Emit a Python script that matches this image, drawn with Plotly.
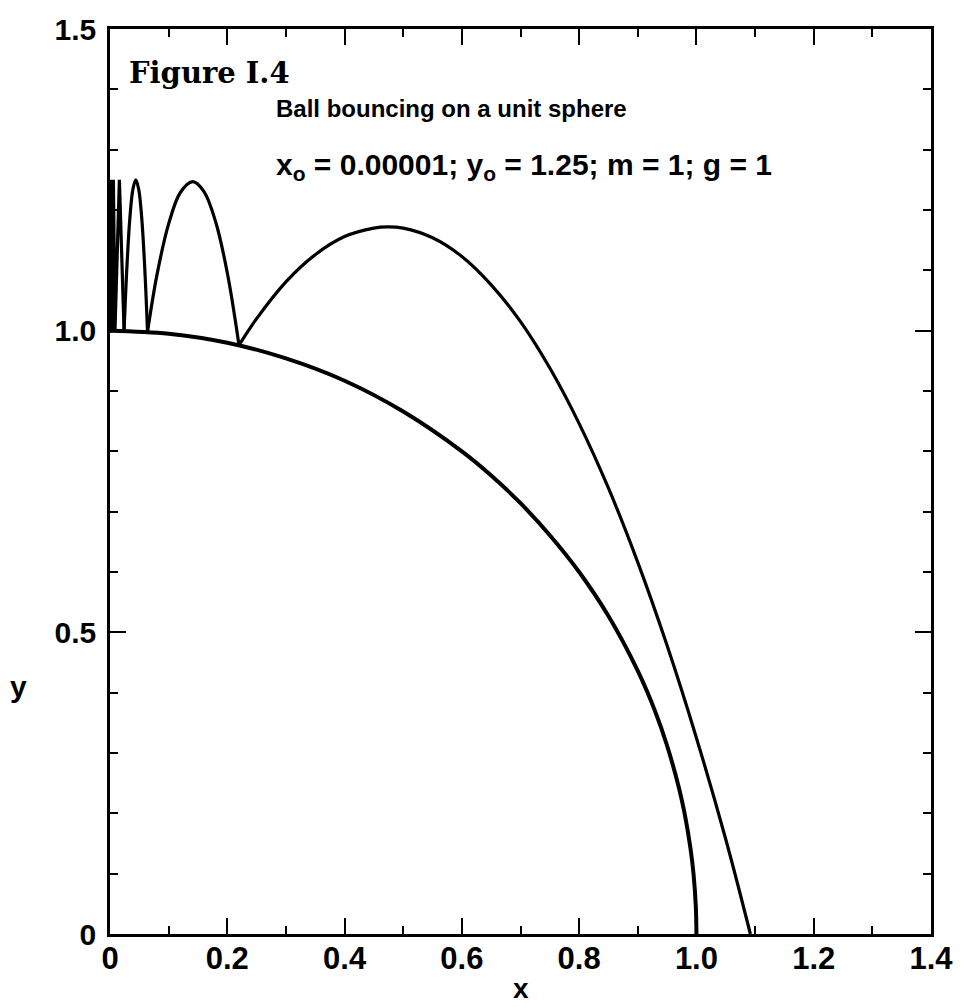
import plotly.graph_objects as go

# Unit sphere profile (upper-right quadrant)
sphere_x = [0.0, 0.1, 0.2, 0.3, 0.4, 0.5, 0.6, 0.65, 0.7, 0.75, 0.8, 0.85,
            0.9, 0.93, 0.95, 0.97, 0.98, 0.99, 0.995, 0.999, 1.0]
sphere_y = [1.0, 0.995, 0.980, 0.954, 0.917, 0.866, 0.800, 0.760, 0.714,
            0.661, 0.600, 0.527, 0.436, 0.368, 0.312, 0.243, 0.199, 0.141,
            0.100, 0.045, 0.0]

# Initial drop and the narrow hops close to the top of the sphere
hop_x = [0.00001, 0.00001, 0.00015, 0.0003, 0.0006, 0.001, 0.002, 0.003,
         0.0058, 0.0085, 0.016, 0.024]
hop_y = [1.25, 1.0, 1.25, 1.0, 1.25, 1.0, 1.25, 1.0, 1.25, 1.0, 1.25, 1.0]

# Wider arcs between successive bounces
arc1_x = [0.024, 0.029, 0.034, 0.039, 0.044, 0.049, 0.054, 0.059, 0.064]
arc1_y = [1.0, 1.109, 1.188, 1.234, 1.25, 1.234, 1.188, 1.109, 0.998]

arc2_x = [0.064, 0.08, 0.10, 0.12, 0.141, 0.16, 0.18, 0.20, 0.22]
arc2_y = [0.998, 1.092, 1.177, 1.229, 1.247, 1.231, 1.181, 1.096, 0.976]

arc3_x = [0.22, 0.25, 0.30, 0.35, 0.40, 0.45, 0.473, 0.50, 0.55, 0.60, 0.65,
          0.70, 0.75, 0.80, 0.85, 0.90, 0.95, 1.00, 1.05, 1.092]
arc3_y = [0.976, 1.020, 1.081, 1.126, 1.156, 1.170, 1.172, 1.170, 1.154,
          1.123, 1.076, 1.015, 0.938, 0.846, 0.739, 0.616, 0.478, 0.325,
          0.157, 0.0]

x_tick_vals = [0, 0.2, 0.4, 0.6, 0.8, 1.0, 1.2, 1.4]
x_tick_text = ["0", "0.2", "0.4", "0.6", "0.8", "1.0", "1.2", "1.4"]
y_tick_vals = [0, 0.5, 1.0, 1.5]
y_tick_text = ["0", "0.5", "1.0", "1.5"]

INK = "#000000"
SANS = "Liberation Sans, Arial, sans-serif"

fig = go.Figure()
fig.add_trace(go.Scatter(x=sphere_x, y=sphere_y, mode="lines",
                         line=dict(color=INK, width=4, shape="spline"),
                         hoverinfo="skip"))
fig.add_trace(go.Scatter(x=hop_x, y=hop_y, mode="lines",
                         line=dict(color=INK, width=3.2, shape="linear"),
                         hoverinfo="skip"))
for ax, ay in ((arc1_x, arc1_y), (arc2_x, arc2_y), (arc3_x, arc3_y)):
    fig.add_trace(go.Scatter(x=ax, y=ay, mode="lines",
                             line=dict(color=INK, width=3.2, shape="spline"),
                             hoverinfo="skip"))

axis_common = dict(
    showgrid=False, zeroline=False, showline=True, linecolor=INK,
    linewidth=2.5, mirror="ticks", ticks="inside", tickcolor=INK,
    tickwidth=2, ticklen=16,
)
minor_ticks = dict(ticks="inside", dtick=0.1, ticklen=8, tickwidth=2,
                   tickcolor=INK, showgrid=False)

fig.update_layout(
    width=965, height=1007,
    margin=dict(l=110, r=28, t=24, b=73),
    paper_bgcolor="white", plot_bgcolor="white",
    showlegend=False,
    xaxis=dict(range=[0, 1.4], tickvals=x_tick_vals, ticktext=x_tick_text,
               ticklabelstandoff=-5, minor=minor_ticks,
               tickfont=dict(family=SANS, size=31, color=INK, weight="bold"),
               **axis_common),
    yaxis=dict(range=[0, 1.5], tickvals=y_tick_vals, ticktext=y_tick_text,
               ticklabelstandoff=5, minor=minor_ticks,
               tickfont=dict(family=SANS, size=30, color=INK, weight="bold"),
               **axis_common),
)

annotations = [
    dict(text="Figure I.4", x=0.021, y=0.951, xanchor="left", yanchor="middle",
         font=dict(family="DejaVu Serif, serif", size=29, color=INK,
                   weight="bold")),
    dict(text="Ball bouncing on a unit sphere", x=0.2, y=0.912,
         xanchor="left", yanchor="middle",
         font=dict(family=SANS, size=24, color=INK, weight="bold")),
    dict(text="x<sub>o</sub> = 0.00001; y<sub>o</sub> = 1.25; m = 1; g = 1",
         x=0.2, y=0.848, xanchor="left", yanchor="middle",
         font=dict(family=SANS, size=30, color=INK, weight="bold")),
    dict(text="x", x=0.5, y=-0.0604, xanchor="center", yanchor="middle",
         font=dict(family=SANS, size=28, color=INK, weight="bold")),
    dict(text="y", x=-0.111, y=0.274, xanchor="center", yanchor="middle",
         font=dict(family=SANS, size=30, color=INK, weight="bold")),
]
for a in annotations:
    fig.add_annotation(xref="paper", yref="paper", showarrow=False, **a)

fig.write_html("out.html")
